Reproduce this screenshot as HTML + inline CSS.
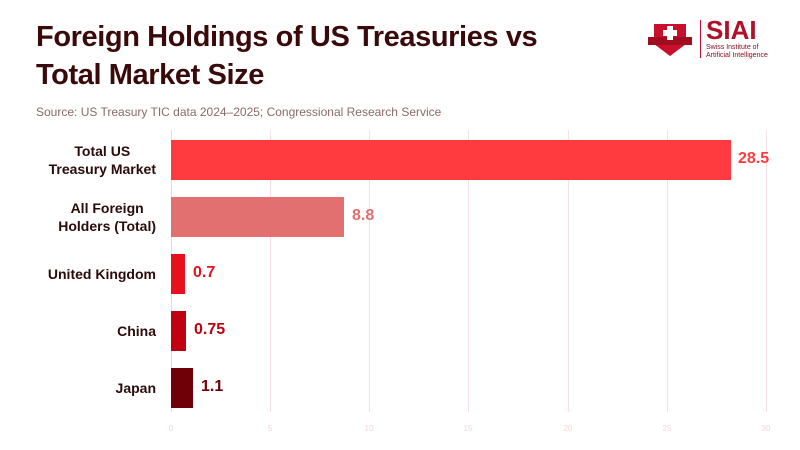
<!DOCTYPE html>
<html><head><meta charset="utf-8"><style>
body{margin:0;width:800px;height:450px;background:#fff;font-family:"Liberation Sans",sans-serif;position:relative;overflow:hidden}
.t{position:absolute;left:36px;top:18px;font-size:29px;font-weight:bold;color:#3a0a0a;line-height:38px;letter-spacing:-0.4px}
.s{position:absolute;left:36px;top:105px;font-size:12px;color:#8a6a6a}
.g{position:absolute;top:130px;width:1px;height:282px;background:#f6e0e3}
.tk{position:absolute;top:424px;font-size:8px;color:#f6d6da;transform:translateX(-50%)}
.b{position:absolute;left:171px;height:40px}
.l{position:absolute;right:644px;font-size:14px;font-weight:bold;color:#2a0a0a;text-align:center;line-height:18px}
.v{position:absolute;font-size:16px;font-weight:bold}
</style></head><body>
<div class="t">Foreign Holdings of US Treasuries vs<br>Total Market Size</div>
<div class="s">Source: US Treasury TIC data 2024–2025; Congressional Research Service</div>
<svg style="position:absolute;left:648px;top:20px" width="44" height="40"><path d="M6 4h32v20l-16 12l-16-12z" fill="#c8102e"/><rect x="0" y="17" width="44" height="8" fill="#a00c20"/><rect x="19" y="6" width="6" height="14" fill="#fff"/><rect x="15" y="10" width="14" height="6" fill="#fff"/></svg>
<div style="position:absolute;left:700px;top:20px;width:1px;height:38px;background:#c8102e"></div>
<div style="position:absolute;left:706px;top:16px;font-size:26px;font-weight:bold;color:#b0102a;line-height:28px">SIAI</div>
<div style="position:absolute;left:706px;top:44px;font-size:7px;color:#8a1020;line-height:8px">Swiss Institute of<br>Artificial Intelligence</div>
<div class="g" style="left:171px;background:#ddd"></div><div class="g" style="left:270px"></div><div class="g" style="left:369px"></div><div class="g" style="left:468px"></div><div class="g" style="left:568px"></div><div class="g" style="left:667px"></div><div class="g" style="left:766px"></div>
<div class="tk" style="left:171px">0</div><div class="tk" style="left:270px">5</div><div class="tk" style="left:369px">10</div><div class="tk" style="left:468px">15</div><div class="tk" style="left:568px">20</div><div class="tk" style="left:667px">25</div><div class="tk" style="left:766px">30</div>
<div class="b" style="top:140px;width:560px;background:#ff3b3f"></div>
<div class="b" style="top:197px;width:173px;background:#e37070"></div>
<div class="b" style="top:254px;width:14px;background:#e8101c"></div>
<div class="b" style="top:311px;width:15px;background:#c00010"></div>
<div class="b" style="top:368px;width:22px;background:#700008"></div>
<div class="l" style="top:142px">Total US<br>Treasury Market</div>
<div class="l" style="top:199px">All Foreign<br>Holders (Total)</div>
<div class="l" style="top:265px">United Kingdom</div>
<div class="l" style="top:322px">China</div>
<div class="l" style="top:379px">Japan</div>
<div class="v" style="left:738px;top:150px;color:#ff3b3f">28.5</div>
<div class="v" style="left:352px;top:207px;color:#e37070">8.8</div>
<div class="v" style="left:193px;top:264px;color:#e8101c">0.7</div>
<div class="v" style="left:194px;top:321px;color:#c00010">0.75</div>
<div class="v" style="left:201px;top:378px;color:#700008">1.1</div>
</body></html>
